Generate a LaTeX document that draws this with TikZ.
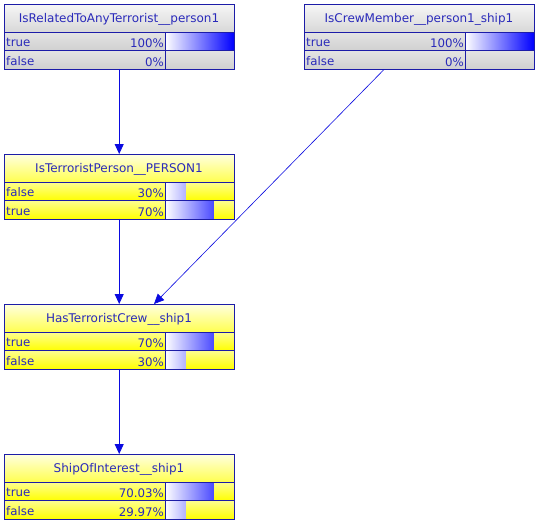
\documentclass[tikz,border=0pt]{standalone}
\usepackage{fontspec}
\setmainfont{DejaVu Sans}
\usetikzlibrary{arrows.meta}
\definecolor{txt}{HTML}{2A2ABA}
\definecolor{edgec}{HTML}{1C1CA8}
\definecolor{gtop}{HTML}{F6F6F6}
\definecolor{gbot}{HTML}{D8D8D8}
\definecolor{growt}{HTML}{E4E4E4}
\definecolor{growb}{HTML}{D0D0D0}
\definecolor{ytop}{HTML}{FFFFE0}
\definecolor{ybot}{HTML}{FFFF50}
\definecolor{yrowt}{HTML}{FFFF90}
\definecolor{yrowb}{HTML}{FFFF00}
\definecolor{arrowc}{HTML}{0A0AE0}
\tikzset{
  lbl/.style={text=txt,font=\fontsize{11.8}{13}\selectfont,inner sep=0pt},
  ttl/.style={text=txt,font=\fontsize{12}{14}\selectfont,inner sep=0pt},
  edgeline/.style={draw=edgec,line width=0.9pt},
  conn/.style={draw=arrowc,line width=0.8pt,-{Triangle[length=10pt,width=9pt]}},
  boxnode/.style={minimum width=230pt,minimum height=65pt,inner sep=0pt,anchor=north west},
}
% #1 y offset, #2 label, #3 pct, #4 fraction, #5 top col, #6 bottom col
\newcommand\bnrow[6]{%
  \shade[top color=#5,bottom color=#6] (0,#1) rectangle (230,#1+18.5);
  \node[lbl,anchor=base west] at (2,#1+14.5) {#2};
  \node[lbl,anchor=base east] at (160,#1+15.5) {#3};
  \begin{scope}
    \clip (161,#1) rectangle (161+69*#4,#1+18.5);
    \shade[left color=white,right color=blue] (161,#1) rectangle (230,#1+18.5);
  \end{scope}
  \draw[edgeline] (0,#1) rectangle (230,#1+18.5);
  \draw[edgeline] (161,#1) -- (161,#1+18.5);
}
% #1 title, #2 title top, #3 title bottom
\newcommand\bntitle[3]{%
  \shade[top color=#2,bottom color=#3] (0,0) rectangle (230,28);
  \draw[edgeline] (0,0) rectangle (230,28);
  \node[ttl] at (115,15) {#1};
}
\begin{document}
\begin{tikzpicture}[x=1pt,y=-1pt]
\useasboundingbox (0,0) rectangle (538,523);
\fill[white] (0,0) rectangle (538,523);
% box 1
\node[boxnode] (b1) at (4,4) {};
\begin{scope}[shift={(4,4)}]
  \bntitle{IsRelatedToAnyTerrorist\_\_person1}{gtop}{gbot}
  \bnrow{28}{true}{100\%}{1}{growt}{growb}
  \bnrow{46.5}{false}{0\%}{0}{growt}{growb}
\end{scope}
% box 2
\node[boxnode] (b2) at (304,4) {};
\begin{scope}[shift={(304,4)}]
  \bntitle{IsCrewMember\_\_person1\_ship1}{gtop}{gbot}
  \bnrow{28}{true}{100\%}{1}{growt}{growb}
  \bnrow{46.5}{false}{0\%}{0}{growt}{growb}
\end{scope}
% box 3
\node[boxnode] (b3) at (4,154) {};
\begin{scope}[shift={(4,154)}]
  \bntitle{IsTerroristPerson\_\_PERSON1}{ytop}{ybot}
  \bnrow{28}{false}{30\%}{0.3}{yrowt}{yrowb}
  \bnrow{46.5}{true}{70\%}{0.7}{yrowt}{yrowb}
\end{scope}
% box 4
\node[boxnode] (b4) at (4,304) {};
\begin{scope}[shift={(4,304)}]
  \bntitle{HasTerroristCrew\_\_ship1}{ytop}{ybot}
  \bnrow{28}{true}{70\%}{0.7}{yrowt}{yrowb}
  \bnrow{46.5}{false}{30\%}{0.3}{yrowt}{yrowb}
\end{scope}
% box 5
\node[boxnode] (b5) at (4,454) {};
\begin{scope}[shift={(4,454)}]
  \bntitle{ShipOfInterest\_\_ship1}{ytop}{ybot}
  \bnrow{28}{true}{70.03\%}{0.7003}{yrowt}{yrowb}
  \bnrow{46.5}{false}{29.97\%}{0.2997}{yrowt}{yrowb}
\end{scope}
% connectors
\coordinate (c2out) at (384,69.5);
\coordinate (c4in) at (154,304);
\draw[conn] (b1.south) -- (b3.north);
\draw[conn] (b3.south) -- (b4.north);
\draw[conn] (b4.south) -- (b5.north);
\draw[conn,line width=0.6pt] (c2out) -- (c4in);
\end{tikzpicture}
\end{document}
